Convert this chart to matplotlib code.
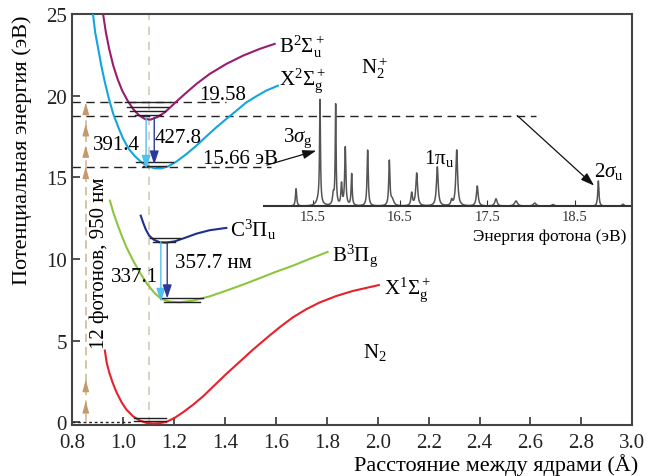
import numpy as np
import matplotlib
matplotlib.use('Agg')
import matplotlib.pyplot as plt

plt.rcParams['font.family'] = ['Liberation Serif', 'DejaVu Serif']
plt.rcParams['mathtext.fontset'] = 'custom'
plt.rcParams['mathtext.rm'] = 'Liberation Serif'
plt.rcParams['mathtext.it'] = 'Liberation Serif:italic'
plt.rcParams['mathtext.bf'] = 'Liberation Serif:bold'

# --- потенциальные кривые (R, Å ; E, эВ) ---
b2su_r = [0.918, 0.932, 0.945, 0.961, 0.978, 0.996, 1.017, 1.039, 1.063, 1.085, 1.107, 1.133,
          1.164, 1.203, 1.242, 1.288, 1.340, 1.405, 1.471, 1.536, 1.595]
b2su_e = [25.3, 23.88, 22.86, 21.84, 21.02, 20.31, 19.70, 19.18, 18.78, 18.57, 18.53, 18.68,
          18.98, 19.55, 20.10, 20.72, 21.33, 21.94, 22.45, 22.86, 23.17]

x2sg_r = [0.879, 0.890, 0.902, 0.914, 0.928, 0.944, 0.961, 0.981, 1.000, 1.022, 1.046, 1.072,
          1.098, 1.124, 1.150, 1.177, 1.209, 1.249, 1.288, 1.327, 1.366, 1.405, 1.445, 1.484,
          1.523, 1.562, 1.608]
x2sg_e = [25.3, 23.88, 22.86, 21.84, 20.82, 19.80, 18.88, 18.06, 17.35, 16.74, 16.29, 15.92,
          15.67, 15.55, 15.55, 15.67, 15.96, 16.43, 16.94, 17.51, 18.06, 18.57, 19.08, 19.59,
          19.96, 20.31, 20.61]

c3pu_r = [1.069, 1.079, 1.089, 1.102, 1.120, 1.144, 1.170, 1.203, 1.242, 1.288, 1.340, 1.405]
c3pu_e = [12.65, 12.20, 11.80, 11.43, 11.18, 11.02, 11.00, 11.08, 11.29, 11.55, 11.76, 11.90]

b3pg_r = [0.948, 0.961, 0.977, 0.994, 1.013, 1.039, 1.065, 1.094, 1.124, 1.150, 1.183, 1.222,
          1.275, 1.340, 1.405, 1.471, 1.536, 1.601, 1.667, 1.732, 1.803]
b3pg_e = [13.57, 12.86, 12.14, 11.43, 10.71, 9.90, 9.18, 8.47, 7.90, 7.55, 7.39, 7.35,
          7.45, 7.71, 8.06, 8.43, 8.82, 9.22, 9.59, 10.00, 10.43]

x1sg_r = [0.928, 0.935, 0.945, 0.958, 0.974, 0.994, 1.013, 1.039, 1.066, 1.092, 1.118, 1.144,
          1.170, 1.203, 1.235, 1.275, 1.314, 1.353, 1.405, 1.458, 1.510, 1.562, 1.615, 1.667,
          1.719, 1.771, 1.837, 1.902, 2.004]
x1sg_e = [4.39, 3.67, 3.06, 2.45, 1.83, 1.22, 0.77, 0.36, 0.10, -0.04, -0.07, -0.05,
          0.02, 0.28, 0.61, 1.08, 1.59, 2.18, 2.96, 3.71, 4.45, 5.14, 5.82, 6.43,
          6.92, 7.33, 7.73, 8.04, 8.40]

# колебательные уровни: энергия, левый и правый край
levels_b2su = ([19.58, 19.33, 19.08, 18.83], [1.007, 1.015, 1.025, 1.045], [1.183, 1.175, 1.165, 1.150])
levels_x2sg = ([15.93, 15.70], [1.052, 1.078], [1.196, 1.170])
levels_c3pu = ([11.27, 11.06], [1.105, 1.117], [1.222, 1.203])
levels_b3pg = ([7.59, 7.39], [1.151, 1.160], [1.314, 1.300])
levels_x1sg = ([0.25, 0.05], [1.043, 1.043], [1.170, 1.170])

# переходы: длина волны (нм), R, начальный уровень (эВ)
trans_nm = [391.4, 427.8, 337.1, 357.7]
trans_r = [1.090, 1.122, 1.148, 1.173]
trans_start = [18.68, 18.68, 11.05, 11.05]

# многофотонная накачка
pump_nm = 950
pump_steps = [1, 2, 12, 13, 14, 15]

# пороги (эВ) и длина штриховых линий по R
thresholds = [19.58, 18.75, 15.66]
threshold_rmax = [1.405, 2.62, 1.58]

# --- фотоэлектронный спектр N2+ ---
peak_ev = [15.31, 15.57, 15.584, 15.736, 15.763, 15.83, 15.873, 15.946, 16.129, 16.377, 16.41,
           16.633, 16.690, 16.926, 17.09, 17.148, 17.383, 17.597, 17.826, 18.04, 18.25, 18.768, 19.05]
peak_int = [0.165, 0.06, 0.96, 0.10, 0.95, 0.20, 0.55, 0.30, 0.53, 0.42, 0.06,
            0.12, 0.31, 0.37, 0.05, 0.53, 0.19, 0.07, 0.05, 0.03, 0.016, 0.24, 0.02]
peak_hw = [0.008, 0.03, 0.006, 0.010, 0.006, 0.008, 0.008, 0.007, 0.008, 0.008, 0.02,
           0.010, 0.012, 0.012, 0.010, 0.012, 0.012, 0.015, 0.02, 0.02, 0.02, 0.008, 0.015]

fig = plt.figure(figsize=(6.47, 4.77), dpi=100)
ax = fig.add_axes([0.1117, 0.1075, 0.8656, 0.8611])
ax.set_xlim(0.8, 3.0)
ax.set_ylim(-0.15, 25)
ax.set_xticks(np.arange(0.8, 3.01, 0.2))
ax.set_xticklabels([f'{v:.1f}' for v in np.arange(0.8, 3.01, 0.2)])
ax.set_yticks([0, 5, 10, 15, 20, 25])
ax.tick_params(direction='in', length=6, width=1.2, labelsize=15, top=False, right=False, pad=4,
               colors='#333333', labelcolor='#222222')
ax.tick_params(axis='x', pad=6)
for s in ax.spines.values():
    s.set_linewidth(1.5)
    s.set_color('#444444')

# вертикаль равновесного расстояния
ax.plot([1.1, 1.1], [-0.15, 25], color='#d6cab6', lw=1.2, dashes=(5, 4), zorder=1)

# штриховые пороги
for e, rmax in zip(thresholds, threshold_rmax):
    ax.plot([0.8, rmax], [e, e], color='#222222', lw=1.0, dashes=(6, 4), zorder=2)
ax.plot([0.8, 1.04], [0, 0], color='#222222', lw=1.0, dashes=(2, 2), zorder=2)

# фотоны 950 нм
e_ph = 1239.84 / pump_nm
ax.plot([0.853, 0.853], [0, 15 * e_ph], color='#d4b896', lw=1.2, dashes=(5, 3), zorder=2)
for k in pump_steps:
    ax.annotate('', xy=(0.853, k * e_ph), xytext=(0.853, k * e_ph - 0.7),
                arrowprops=dict(arrowstyle='-|>,head_length=0.9,head_width=0.25', color='#c49a6c',
                                lw=0.8, shrinkA=0, shrinkB=0, mutation_scale=8))

# кривые
ax.plot(b2su_r, b2su_e, color='#9b1b6e', lw=1.5, zorder=3)
ax.plot(x2sg_r, x2sg_e, color='#12a6dc', lw=1.5, zorder=3)
ax.plot(c3pu_r, c3pu_e, color='#1f2f8f', lw=1.5, zorder=3)
ax.plot(b3pg_r, b3pg_e, color='#8cc63f', lw=1.5, zorder=3)
ax.plot(x1sg_r, x1sg_e, color='#e8202a', lw=1.5, zorder=3)

for lv in [levels_b2su, levels_x2sg, levels_c3pu, levels_b3pg, levels_x1sg]:
    for e, r0, r1 in zip(*lv):
        ax.plot([r0, r1], [e, e], color='#222222', lw=1.0, zorder=4)

# переходы
trans_col = ['#4fc0ef', '#2b3a9a', '#4fc0ef', '#2b3a9a']
for nm, r, e0, c in zip(trans_nm, trans_r, trans_start, trans_col):
    ax.annotate('', xy=(r, e0 - 1239.84 / nm), xytext=(r, e0),
                arrowprops=dict(arrowstyle='-|>,head_length=0.9,head_width=0.3', color=c,
                                lw=1.0, shrinkA=0, shrinkB=0, mutation_scale=9), zorder=5)

fs = 15
ax.text(1.614, 22.66, r'$\mathrm{B}^2\Sigma_\mathrm{u}^+$', fontsize=fs, va='baseline')
ax.text(1.614, 20.71, r'$\mathrm{X}^2\Sigma_\mathrm{g}^+$', fontsize=fs, va='baseline')
ax.text(1.936, 21.39, r'$\mathrm{N}_2^+$', fontsize=fs, va='baseline')
ax.text(1.420, 11.43, r'$\mathrm{C}^3\Pi_\mathrm{u}$', fontsize=fs, va='baseline')
ax.text(1.821, 9.96, r'$\mathrm{B}^3\Pi_\mathrm{g}$', fontsize=fs, va='baseline')
ax.text(2.026, 7.92, r'$\mathrm{X}^1\Sigma_\mathrm{g}^+$', fontsize=fs, va='baseline')
ax.text(1.941, 3.98, r'$\mathrm{N}_2$', fontsize=fs, va='baseline')

ax.text(1.300, 19.79, '19.58', fontsize=fs, va='baseline')
ax.text(1.065, 16.74, '391.4', fontsize=fs, va='baseline', ha='right')
ax.text(1.124, 17.16, '427.8', fontsize=fs, va='baseline')
ax.text(1.314, 15.86, '15.66 эВ', fontsize=fs, va='baseline')
ax.text(1.137, 8.67, '337.1', fontsize=fs, va='baseline', ha='right')
ax.text(1.203, 9.51, '357.7 нм', fontsize=fs, va='baseline')
ax.text(0.905, 9.8, '12 фотонов, 950 нм', fontsize=fs, rotation=90, ha='center', va='center')

ax.text(1.626, 17.25, r'$3\sigma_\mathrm{g}$', fontsize=fs, va='baseline')
ax.text(2.180, 15.85, r'$1\mathrm{\pi}_\mathrm{u}$', fontsize=fs, va='baseline')
ax.text(2.850, 15.06, r'$2\sigma_\mathrm{u}$', fontsize=fs, va='baseline')

ax.annotate('', xy=(1.758, 16.63), xytext=(1.565, 15.75),
            arrowprops=dict(arrowstyle='-|>,head_length=0.9,head_width=0.3', color='#111111',
                            lw=0.9, shrinkA=0, shrinkB=0, mutation_scale=9))
ax.annotate('', xy=(2.850, 14.49), xytext=(2.548, 18.78),
            arrowprops=dict(arrowstyle='-|>,head_length=0.9,head_width=0.3', color='#111111',
                            lw=0.9, shrinkA=0, shrinkB=0, mutation_scale=9))

fig.text(22 / 647, 1 - 150 / 477, 'Потенциальная энергия (эВ)', fontsize=16, rotation=90,
         ha='center', va='center')
fig.text(638 / 647, 1 - 471 / 477, 'Расстояние между ядрами (Å)', fontsize=16,
         ha='right', va='baseline')

# спектр
axi = fig.add_axes([0.4080, 0.5654, 0.5657, 0.2354], facecolor='none')
axi.set_xlim(14.943, 19.13)
axi.set_ylim(0, 1.062)
ev = np.linspace(14.943, 19.13, 4000)
spec = np.zeros_like(ev)
for e0, h, w in zip(peak_ev, peak_int, peak_hw):
    spec += h * w ** 2 / ((ev - e0) ** 2 + w ** 2)
axi.plot(ev, spec, color='#555555', lw=1.1)
for s in ['top', 'left', 'right']:
    axi.spines[s].set_visible(False)
axi.spines['bottom'].set_linewidth(1.5)
axi.spines['bottom'].set_color('#333333')
axi.set_yticks([])
axi.set_xticks([15.5, 16.5, 17.5, 18.5])
axi.tick_params(direction='in', length=4, labelsize=10.5, pad=3, colors='#333333')
axi.text(0.991, -0.262, 'Энергия фотона (эВ)', transform=axi.transAxes, fontsize=12.5,
         ha='right', va='center')

fig.savefig('out.png', dpi=100)
